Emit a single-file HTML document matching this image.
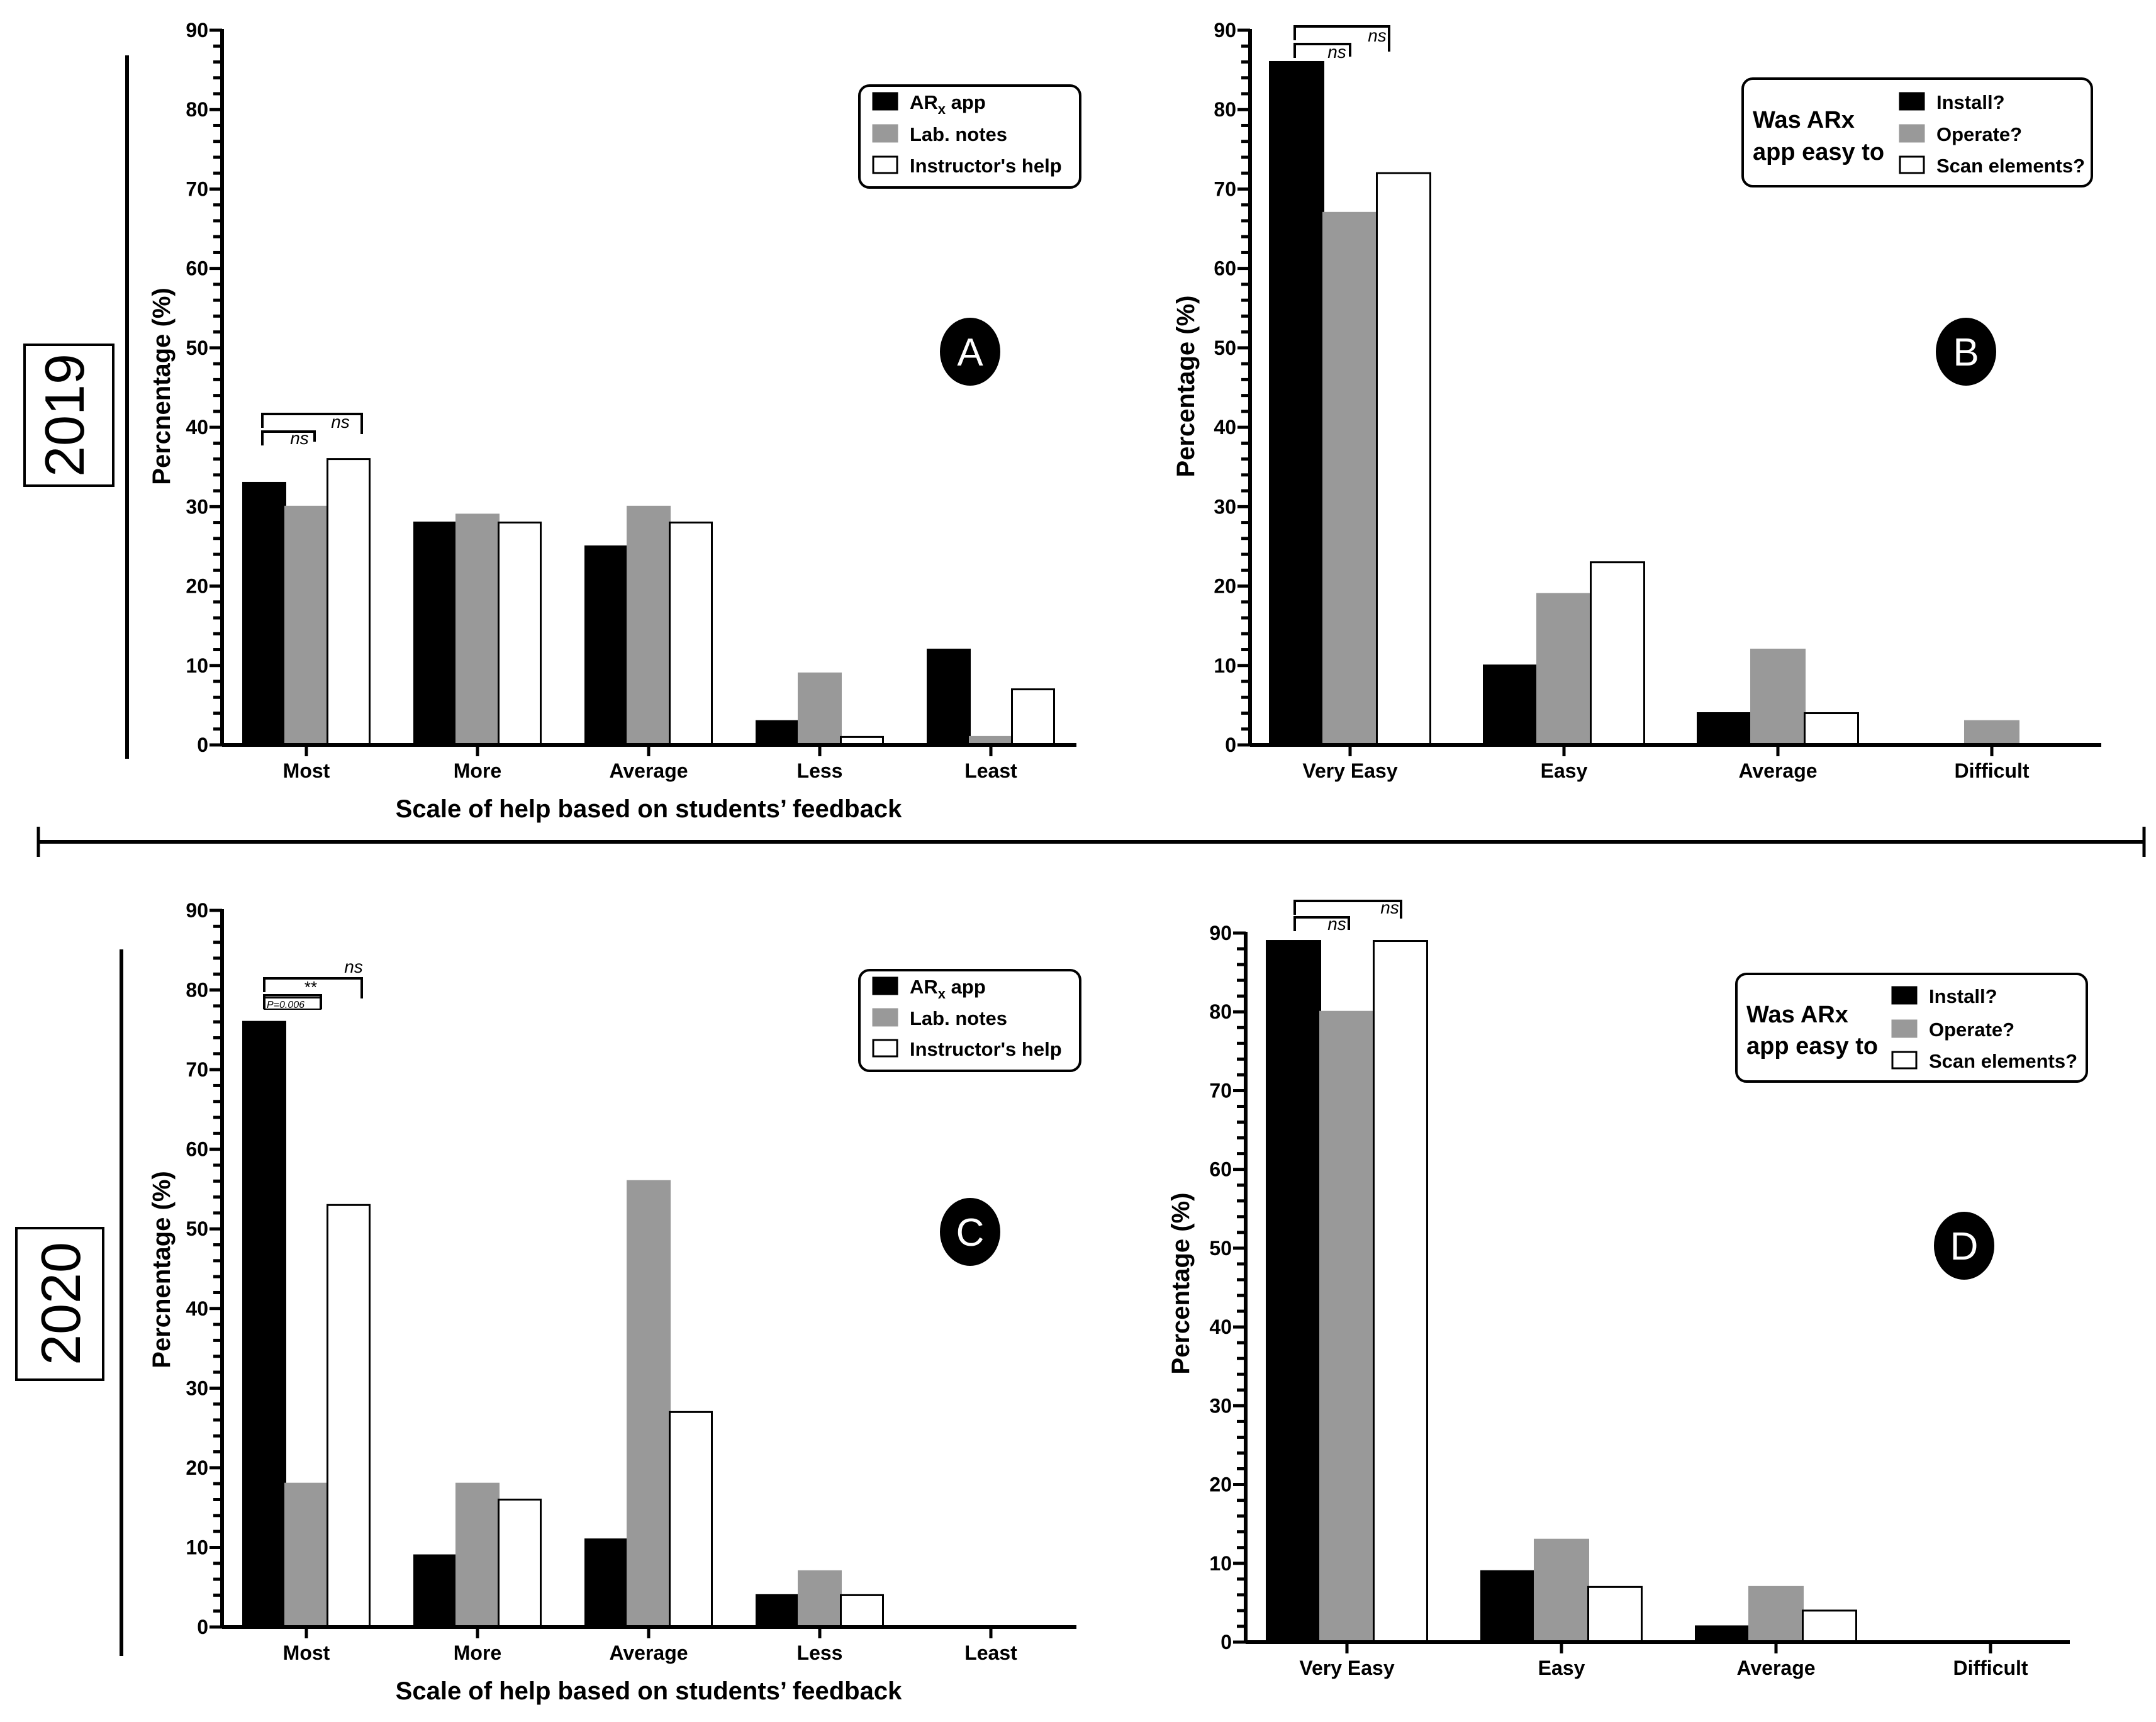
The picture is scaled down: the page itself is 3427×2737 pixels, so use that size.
<!DOCTYPE html>
<html><head><meta charset="utf-8">
<style>
html,body{margin:0;padding:0;background:#fff;}
svg{display:block;font-family:"Liberation Sans",sans-serif;}
</style></head>
<body>
<svg id="fig" width="3427" height="2737" viewBox="0 0 3427 2737" xmlns="http://www.w3.org/2000/svg">
  <g>
    <rect x="39" y="548" width="141" height="224" fill="#fff" stroke="#000" stroke-width="4"/>
    <text x="0" y="0" transform="translate(133,660) rotate(-90)" text-anchor="middle" font-size="88" font-weight="normal">2019</text>
  </g>
  <line x1="202" y1="88" x2="202" y2="1206" stroke="#000" stroke-width="6"/>
  <g>
    <rect x="26" y="1952" width="138" height="241" fill="#fff" stroke="#000" stroke-width="4"/>
    <text x="0" y="0" transform="translate(127,2072) rotate(-90)" text-anchor="middle" font-size="88">2020</text>
  </g>
  <line x1="193" y1="1509" x2="193" y2="2632" stroke="#000" stroke-width="6"/>
  <g>
    <line x1="61" y1="1338" x2="3408" y2="1338" stroke="#000" stroke-width="6"/>
    <line x1="61" y1="1314" x2="61" y2="1362" stroke="#000" stroke-width="5"/>
    <line x1="3408" y1="1314" x2="3408" y2="1362" stroke="#000" stroke-width="5"/>
  </g>
</svg>
<script>
const NS = "http://www.w3.org/2000/svg";
const svg = document.getElementById('fig');

const helpCategories = ["Most", "More", "Average", "Less", "Least"];
const easeCategories = ["Very Easy", "Easy", "Average", "Difficult"];
const yTicks = [0, 10, 20, 30, 40, 50, 60, 70, 80, 90];

const panelA_app = [33, 28, 25, 3, 12];
const panelA_notes = [30, 29, 30, 9, 1];
const panelA_instructor = [36, 28, 28, 1, 7];

const panelB_install = [86, 10, 4, 0];
const panelB_operate = [67, 19, 12, 3];
const panelB_scan = [72, 23, 4, 0];

const panelC_app = [76, 9, 11, 4, 0];
const panelC_notes = [18, 18, 56, 7, 0];
const panelC_instructor = [53, 16, 27, 4, 0];

const panelD_install = [89, 9, 2, 0];
const panelD_operate = [80, 13, 7, 0];
const panelD_scan = [89, 7, 4, 0];

const fills = ["#000000", "#999999", "#ffffff"];

function mk(tag, attrs, parent) {
  const e = document.createElementNS(NS, tag);
  for (const k in attrs) e.setAttribute(k, attrs[k]);
  (parent || svg).appendChild(e);
  return e;
}

function drawPanel(p) {
  const g = mk('g', {});
  
  
  const yS = v => p.y0 - (p.y0 - p.y90) * v / 90;
  const xC = i => p.c0 + i * p.step;

  p.series.forEach((vals, s) => {
    vals.forEach((v, i) => {
      if (v <= 0) return;
      const x = xC(i) + (s - 1.5) * p.bw;
      const r = mk('rect', {x: x, y: yS(v), width: p.bw, height: p.y0 - yS(v),
        fill: fills[s], stroke: s === 1 ? '#999' : '#000', 'stroke-width': 3}, g);
      
      
    });
  });

  const ya = mk('g', {}, g);
  
  
  mk('line', {x1: p.ax, y1: p.y90 - 2, x2: p.ax, y2: p.y0 + 2, stroke: '#000', 'stroke-width': 6}, ya);
  for (let v = 0; v <= 90; v += 2) {
    const major = v % 10 === 0;
    mk('line', {x1: p.ax - (major ? 20 : 14), y1: yS(v), x2: p.ax, y2: yS(v), stroke: '#000', 'stroke-width': 5}, ya);
  }
  yTicks.forEach(t => {
    const tx = mk('text', {x: p.ax - 22, y: yS(t) + 11, 'text-anchor': 'end', 'font-size': 32, 'font-weight': 'bold'}, ya);
    tx.textContent = t;
    
    
  });
  const yt = mk('text', {transform: `translate(${p.ytx},${p.yty}) rotate(-90)`, 'text-anchor': 'middle', 'font-size': 40, 'font-weight': 'bold'}, g);
  yt.textContent = p.ytitle;
  
  

  const xa = mk('g', {}, g);
  
  
  mk('line', {x1: p.ax, y1: p.y0, x2: p.xEnd, y2: p.y0, stroke: '#000', 'stroke-width': 6}, xa);
  p.cats.forEach((c, i) => {
    mk('line', {x1: xC(i), y1: p.y0, x2: xC(i), y2: p.y0 + 18, stroke: '#000', 'stroke-width': 5}, xa);
    const tx = mk('text', {x: xC(i), y: p.y0 + 52, 'text-anchor': 'middle', 'font-size': 32, 'font-weight': 'bold'}, xa);
    tx.textContent = c;
    
    
  });
  if (p.xtitle) {
    const xt = mk('text', {x: 1031, y: p.y0 + 115, 'text-anchor': 'middle', 'font-size': 40, 'font-weight': 'bold'}, g);
    xt.textContent = p.xtitle;
    
    
  }

  const cg = mk('g', {}, g);
  
  
  mk('ellipse', {cx: p.lx, cy: p.ly, rx: 48, ry: 54, fill: '#000'}, cg);
  const lt = mk('text', {x: p.lx, y: p.ly + 22, 'text-anchor': 'middle', 'font-size': 62, fill: '#fff'}, cg);
  lt.textContent = p.id;

  const lg = mk('g', {}, g);
  
  
  const L = p.legend;
  mk('rect', {x: L.x, y: L.y, width: L.w, height: L.h, rx: 16, fill: '#fff', stroke: '#000', 'stroke-width': 4}, lg);
  if (L.title) {
    L.title.forEach((t, k) => {
      const tt = mk('text', {x: L.x + 16, y: L.ty[k], 'font-size': 38, 'font-weight': 'bold'}, lg);
      tt.textContent = t;
    });
  }
  L.labels.forEach((lab, k) => {
    const e = mk('g', {}, lg);
    
    
    mk('rect', {x: L.sx, y: L.ry[k] - 14, width: 38, height: 26, fill: fills[k], stroke: k === 1 ? '#999' : '#000', 'stroke-width': 3}, e);
    const t = mk('text', {x: L.sx + 58, y: L.ry[k] + 11, 'font-size': 31, 'font-weight': 'bold'}, e);
    if (lab === 'ARx app') {
      t.innerHTML = 'AR<tspan font-size="22" dy="8">x</tspan><tspan dy="-8"> app</tspan>';
    } else t.textContent = lab;
  });

  p.brackets.forEach(b => {
    const bg = mk('g', {}, g);
    
    
    mk('polyline', {points: `${b.x1},${b.y + 22} ${b.x1},${b.y} ${b.x2},${b.y} ${b.x2},${b.y + b.dr}`, fill: 'none', stroke: '#000', 'stroke-width': 4}, bg);
    const t = mk('text', {x: b.lx, y: b.ly, 'text-anchor': 'middle', 'font-size': b.fs || 28, 'font-style': b.it === false ? 'normal' : 'italic'}, bg);
    t.textContent = b.label;
    if (b.box) {
      mk('rect', {x: b.x1, y: b.y + 4, width: b.x2 - b.x1, height: 18, fill: 'none', stroke: '#000', 'stroke-width': 2}, bg);
      const pt = mk('text', {x: b.x1 + 4, y: b.y + 20, 'font-size': 16, 'font-style': 'italic'}, bg);
      pt.textContent = 'P=0.006';
    }
  });
}

const helpLegend = ['ARx app', 'Lab. notes', "Instructor's help"];
const easeLegend = ['Install?', 'Operate?', 'Scan elements?'];

drawPanel({id: 'A', ax: 353, y0: 1184, y90: 48, c0: 487, step: 272, bw: 67, xEnd: 1711,
  cats: helpCategories, series: [panelA_app, panelA_notes, panelA_instructor],
  ytitle: 'Percnentage (%)', ytx: 270, yty: 614, xtitle: "Scale of  help based on students\u2019 feedback",
  lx: 1542, ly: 559,
  legend: {x: 1366, y: 136, w: 351, h: 162, sx: 1388, ry: [162, 213, 263], labels: helpLegend},
  brackets: [
    {x1: 417, x2: 500, y: 686, dr: 16, label: 'ns', lx: 476, ly: 706},
    {x1: 417, x2: 575, y: 658, dr: 32, label: 'ns', lx: 541, ly: 680}]});

drawPanel({id: 'B', ax: 1987, y0: 1184, y90: 48, c0: 2146, step: 340, bw: 85, xEnd: 3340,
  cats: easeCategories, series: [panelB_install, panelB_operate, panelB_scan],
  ytitle: 'Percentage (%)', ytx: 1898, yty: 614,
  lx: 3125, ly: 559,
  legend: {x: 2770, y: 125, w: 555, h: 171, sx: 3020, ry: [162, 213, 263], labels: easeLegend,
    title: ['Was ARx', 'app easy to'], ty: [203, 254]},
  brackets: [
    {x1: 2058, x2: 2146, y: 70, dr: 20, label: 'ns', lx: 2125, ly: 92},
    {x1: 2058, x2: 2208, y: 42, dr: 40, label: 'ns', lx: 2189, ly: 66}]});

drawPanel({id: 'C', ax: 353, y0: 2586, y90: 1447, c0: 487, step: 272, bw: 67, xEnd: 1711,
  cats: helpCategories, series: [panelC_app, panelC_notes, panelC_instructor],
  ytitle: 'Percnentage (%)', ytx: 270, yty: 2018, xtitle: "Scale of  help based on students\u2019 feedback",
  lx: 1542, ly: 1958,
  legend: {x: 1366, y: 1542, w: 351, h: 160, sx: 1388, ry: [1568, 1618, 1667], labels: helpLegend},
  brackets: [
    {x1: 420, x2: 510, y: 1582, dr: 22, label: '**', lx: 494, ly: 1578, it: false, fs: 26, box: true},
    {x1: 420, x2: 575, y: 1555, dr: 32, label: 'ns', lx: 562, ly: 1546}]});

drawPanel({id: 'D', ax: 1980, y0: 2610, y90: 1483, c0: 2141, step: 341, bw: 85, xEnd: 3290,
  cats: easeCategories, series: [panelD_install, panelD_operate, panelD_scan],
  ytitle: 'Percentage (%)', ytx: 1890, yty: 2040,
  lx: 3122, ly: 1980,
  legend: {x: 2760, y: 1548, w: 557, h: 171, sx: 3008, ry: [1583, 1636, 1686], labels: easeLegend,
    title: ['Was ARx', 'app easy to'], ty: [1625, 1675]},
  brackets: [
    {x1: 2058, x2: 2144, y: 1458, dr: 20, label: 'ns', lx: 2125, ly: 1478},
    {x1: 2058, x2: 2227, y: 1432, dr: 28, label: 'ns', lx: 2209, ly: 1452}]});
</script>
</body></html>
